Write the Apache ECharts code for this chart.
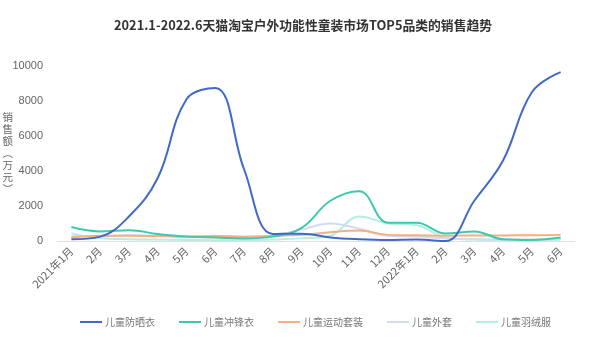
<!DOCTYPE html>
<html><head><meta charset="utf-8">
<script src="https://cdn.jsdelivr.net/npm/echarts@6/dist/echarts.min.js"></script>
<style>html,body{margin:0;padding:0;background:#fff}#c{width:606px;height:352px}</style>
</head><body><div id="c"></div>
<script>
const categories = ['2021年1月','2月','3月','4月','5月','6月','7月','8月','9月','10月','11月','12月','2022年1月','2月','3月','4月','5月','6月'];
const seriesNames = ['儿童防晒衣','儿童冲锋衣','儿童运动套装','儿童外套','儿童羽绒服'];
const sunProtection = [100, 250, 1400, 3600, 8100, 8750, 4100, 400, 420, 200, 100, 60, 80, 0, 2300, 4600, 8500, 9650];
const windbreaker = [800, 550, 620, 400, 250, 200, 150, 250, 750, 2300, 2850, 1050, 1050, 430, 550, 100, 60, 200];
const sportsSuit = [200, 300, 300, 280, 270, 280, 250, 300, 350, 500, 600, 350, 330, 300, 320, 320, 330, 350];
const jacket = [300, 250, 350, 300, 200, 250, 200, 300, 650, 1000, 700, 300, 250, 150, 100, 80, 80, 100];
const downCoat = [450, 150, 100, 80, 60, 50, 50, 80, 150, 300, 1400, 1000, 900, 200, 80, 60, 60, 80];
const yTicks = [0, 2000, 4000, 6000, 8000, 10000];
const colors = ['#4169C8', '#3CC9AE', '#F4AF84', '#D4DBF0', '#B4EEE2'];

const chart = echarts.init(document.getElementById('c'));
const data = [sunProtection, windbreaker, sportsSuit, jacket, downCoat];
chart.setOption({
  animation: false,
  title: {
    text: '2021.1-2022.6天猫淘宝户外功能性童装市场TOP5品类的销售趋势',
    left: 'center', top: 14,
    textStyle: {fontSize: 12.8, fontWeight: 'bold', color: '#333', fontFamily: 'Noto Sans CJK SC'}
  },
  grid: {left: 57, right: 31, top: 66, bottom: 111, outerBoundsMode: 'none', containLabel: false},
  legend: {
    bottom: 20, left: 75, itemGap: 24, itemWidth: 22, itemHeight: 2, icon: 'rect',
    textStyle: {fontSize: 10, color: '#777', fontFamily: 'Noto Sans CJK SC', padding: [0, 0, 0, -2]},
    data: seriesNames
  },
  xAxis: {
    type: 'category', data: categories, boundaryGap: true,
    axisLine: {lineStyle: {color: '#e0e0e0'}},
    axisTick: {show: false},
    axisLabel: {rotate: 45, interval: 0, fontSize: 11, color: '#666', fontFamily: 'Noto Sans CJK SC', margin: 8}
  },
  yAxis: {
    type: 'value', min: yTicks[0], max: yTicks[yTicks.length - 1], interval: 2000,
    name: '销\n售\n额\n︵\n万\n元\n︶', nameLocation: 'middle', nameRotate: 0, nameGap: 44,
    nameMoveOverlap: false,
    nameTextStyle: {fontSize: 10.5, color: '#666', lineHeight: 12, fontFamily: 'Noto Sans CJK SC'},
    axisLine: {show: false}, axisTick: {show: false}, splitLine: {show: false},
    axisLabel: {fontSize: 11, color: '#666', margin: 14, formatter: v => String(v)}
  },
  series: seriesNames.map((n, i) => ({
    name: n, type: 'line', smooth: 0.4, symbol: 'none', data: data[i],
    z: 10 - i,
    lineStyle: {width: 2, color: colors[i]}, itemStyle: {color: colors[i]}
  }))
});
</script></body></html>
